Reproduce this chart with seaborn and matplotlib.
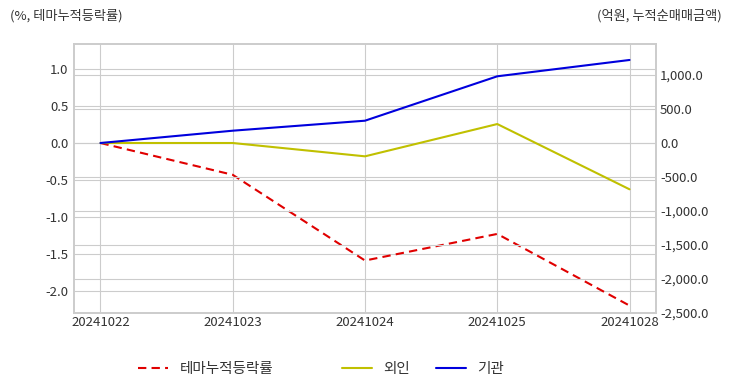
import matplotlib
matplotlib.use("Agg")
import matplotlib.pyplot as plt
import seaborn as sns
import pandas as pd
from matplotlib.ticker import FuncFormatter, FixedLocator
from matplotlib.lines import Line2D

dates = ["20241022", "20241023", "20241024", "20241025", "20241028"]
theme_rate = [0.0, -0.43, -1.59, -1.23, -2.20]
foreign = [0.0, 0.0, -196.0, 279.0, -681.0]
institution = [0.0, 181.0, 328.0, 981.0, 1221.0]

sns.set_theme(style="whitegrid")
plt.rcParams['font.family'] = ['Noto Sans CJK KR', 'DejaVu Sans']

df = pd.DataFrame({"date": dates, "theme": theme_rate, "foreign": foreign, "inst": institution})
df["x"] = range(len(dates))

fig = plt.figure(figsize=(7.32, 3.92), dpi=100)
ax = fig.add_axes([74/732, 1 - 313/392, (656-74)/732, (313-44)/392])
ax2 = ax.twinx()

grid_c = "#cccccc"
tick_c = "#333333"
red, yellow, blue = "#e00000", "#c0c000", "#0000dd"
dash = (0, (4, 2.5))

sns.lineplot(data=df, x="x", y="theme", ax=ax, color=red, linewidth=1.5, zorder=3)
ax.lines[-1].set_linestyle(dash)
sns.lineplot(data=df, x="x", y="foreign", ax=ax2, color=yellow, linewidth=1.5, zorder=3)
sns.lineplot(data=df, x="x", y="inst", ax=ax2, color=blue, linewidth=1.5, zorder=3)

ax.set_xlim(-0.2, 4.2)
ax.set_ylim(-2.30, 1.34)
ax2.set_ylim(-2500, 1456)
ax.set_xticks(range(len(dates)))
ax.set_xticklabels(dates)
ax.yaxis.set_major_locator(FixedLocator([1.0, 0.5, 0.0, -0.5, -1.0, -1.5, -2.0]))
ax.yaxis.set_major_formatter(FuncFormatter(lambda v, p: f"{v:.1f}"))
ax2.yaxis.set_major_locator(FixedLocator([1000, 500, 0, -500, -1000, -1500, -2000, -2500]))
ax2.yaxis.set_major_formatter(FuncFormatter(lambda v, p: f"{v:,.1f}"))

for a in (ax, ax2):
    a.set_xlabel("")
    a.set_ylabel("")
    a.grid(True, color=grid_c, linewidth=0.8)
    a.tick_params(axis="both", labelsize=9.5, colors=tick_c, length=0, pad=3)
    for s in a.spines.values():
        s.set_color(grid_c)
        s.set_linewidth(1.2)
ax2.grid(axis="x", visible=False)
ax.tick_params(axis="y", pad=4)
ax.tick_params(axis="x", pad=2)

fig.text(10/732, 1 - 16/392, "(%, 테마누적등락률)", fontsize=9.5, color=tick_c, va="center", ha="left")
fig.text(722/732, 1 - 16/392, "(억원, 누적순매매금액)", fontsize=9.5, color=tick_c, va="center", ha="right")

entries = [
    (138, Line2D([], [], color=red, linewidth=1.5, linestyle=dash), "테마누적등락률"),
    (342, Line2D([], [], color=yellow, linewidth=1.5), "외인"),
    (436, Line2D([], [], color=blue, linewidth=1.5), "기관"),
]
for xpix, h, lab in entries:
    leg = fig.legend([h], [lab], loc="center left", bbox_to_anchor=(xpix/732, 1 - 369/392),
                     frameon=False, fontsize=10.5, handlelength=2.05, handletextpad=0.8,
                     borderpad=0, borderaxespad=0)
    for t in leg.get_texts():
        t.set_color(tick_c)

fig.savefig("out.png", dpi=100)
